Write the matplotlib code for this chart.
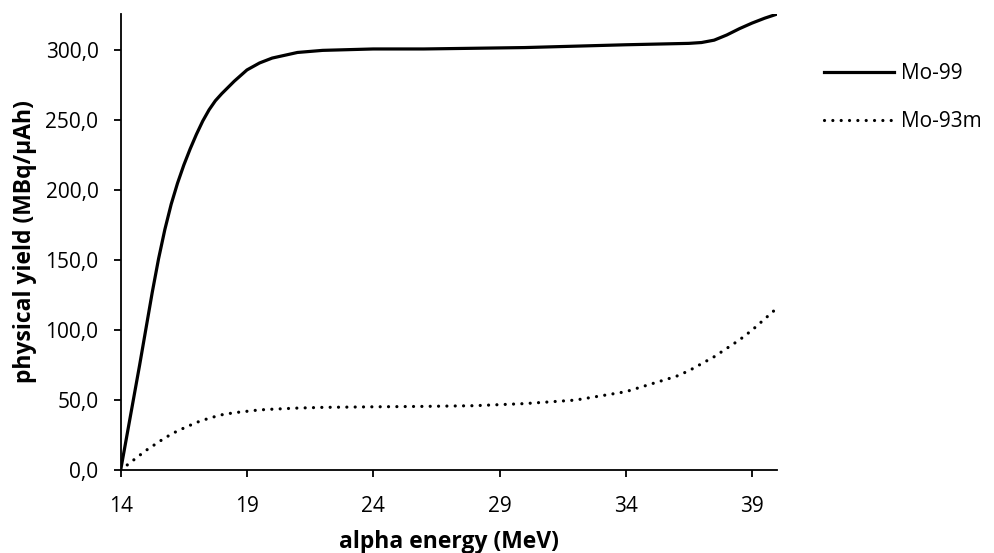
import matplotlib
matplotlib.use('Agg')
import matplotlib.pyplot as plt
from matplotlib.ticker import FuncFormatter

plt.rcParams['font.family'] = ['Open Sans', 'DejaVu Sans']

# Energía alfa (MeV) y rendimiento físico (MBq/µAh)
energia = [14, 14.25, 14.5, 14.75, 15, 15.25, 15.5, 15.75, 16, 16.25, 16.5, 16.75, 17, 17.25,
           17.5, 17.75, 18, 18.5, 19, 19.5, 20, 21, 22, 24, 26, 28, 30, 32, 34, 36, 36.5,
           37, 37.5, 38, 38.5, 39, 39.5, 40]
mo99 = [0, 25, 50, 75, 101, 127, 151, 172, 190, 205, 218, 229.5, 240, 249.5,
        257.5, 264, 269, 278, 286, 291, 294.5, 298.5, 300, 301, 301, 301.5, 302, 303, 304, 304.8, 305,
        305.6, 307.3, 311, 315.5, 319.5, 323, 326]
mo93m = [0, 3.5, 7, 10.5, 14, 17, 20, 23, 25.5, 28, 30, 32, 34, 35.6,
         37, 38.3, 39.5, 41, 42, 43, 43.5, 44.3, 44.8, 45.2, 45.5, 46, 47.5, 50, 56, 67, 71,
         76, 81, 87, 93, 100, 108, 116]

ticks_x = [14, 19, 24, 29, 34, 39]
ticks_y = [0, 50, 100, 150, 200, 250, 300]

fig = plt.figure(figsize=(9.94, 5.53), dpi=100)
ax = fig.add_axes([0.1214, 0.150, 0.6606, 0.8247])

ax.plot(energia, mo99, color='black', lw=2.3, label='Mo-99', solid_joinstyle='round')
ax.plot(energia, mo93m, color='black', lw=2.3, label='Mo-93m',
        linestyle=(0, (0.01, 2.6)), dash_capstyle='round')

ax.set_xlim(14, 40)
ax.set_ylim(0, 326)
ax.set_xticks(ticks_x)
ax.set_yticks(ticks_y)
ax.yaxis.set_major_formatter(FuncFormatter(lambda v, p: f"{v:.1f}".replace('.', ',')))

for lado in ['top', 'right']:
    ax.spines[lado].set_visible(False)
for lado in ['left', 'bottom']:
    ax.spines[lado].set_linewidth(1.3)
    ax.spines[lado].set_color('black')
ax.tick_params(direction='out', length=5, width=1.3, labelsize=15)
ax.tick_params(axis='x', pad=14)
ax.tick_params(axis='y', pad=11)

ax.set_xlabel('alpha energy (MeV)', fontsize=16.5, fontweight='bold', labelpad=9)
ax.set_ylabel('physical yield (MBq/µAh)', fontsize=16.5, fontweight='bold', labelpad=6)

ax.legend(loc='upper left', bbox_to_anchor=(0.818, 0.905), bbox_transform=fig.transFigure,
          frameon=False, fontsize=15, handlelength=3.4, handletextpad=0.3,
          labelspacing=1.3, borderpad=0)

plt.savefig('out.png', dpi=100)
